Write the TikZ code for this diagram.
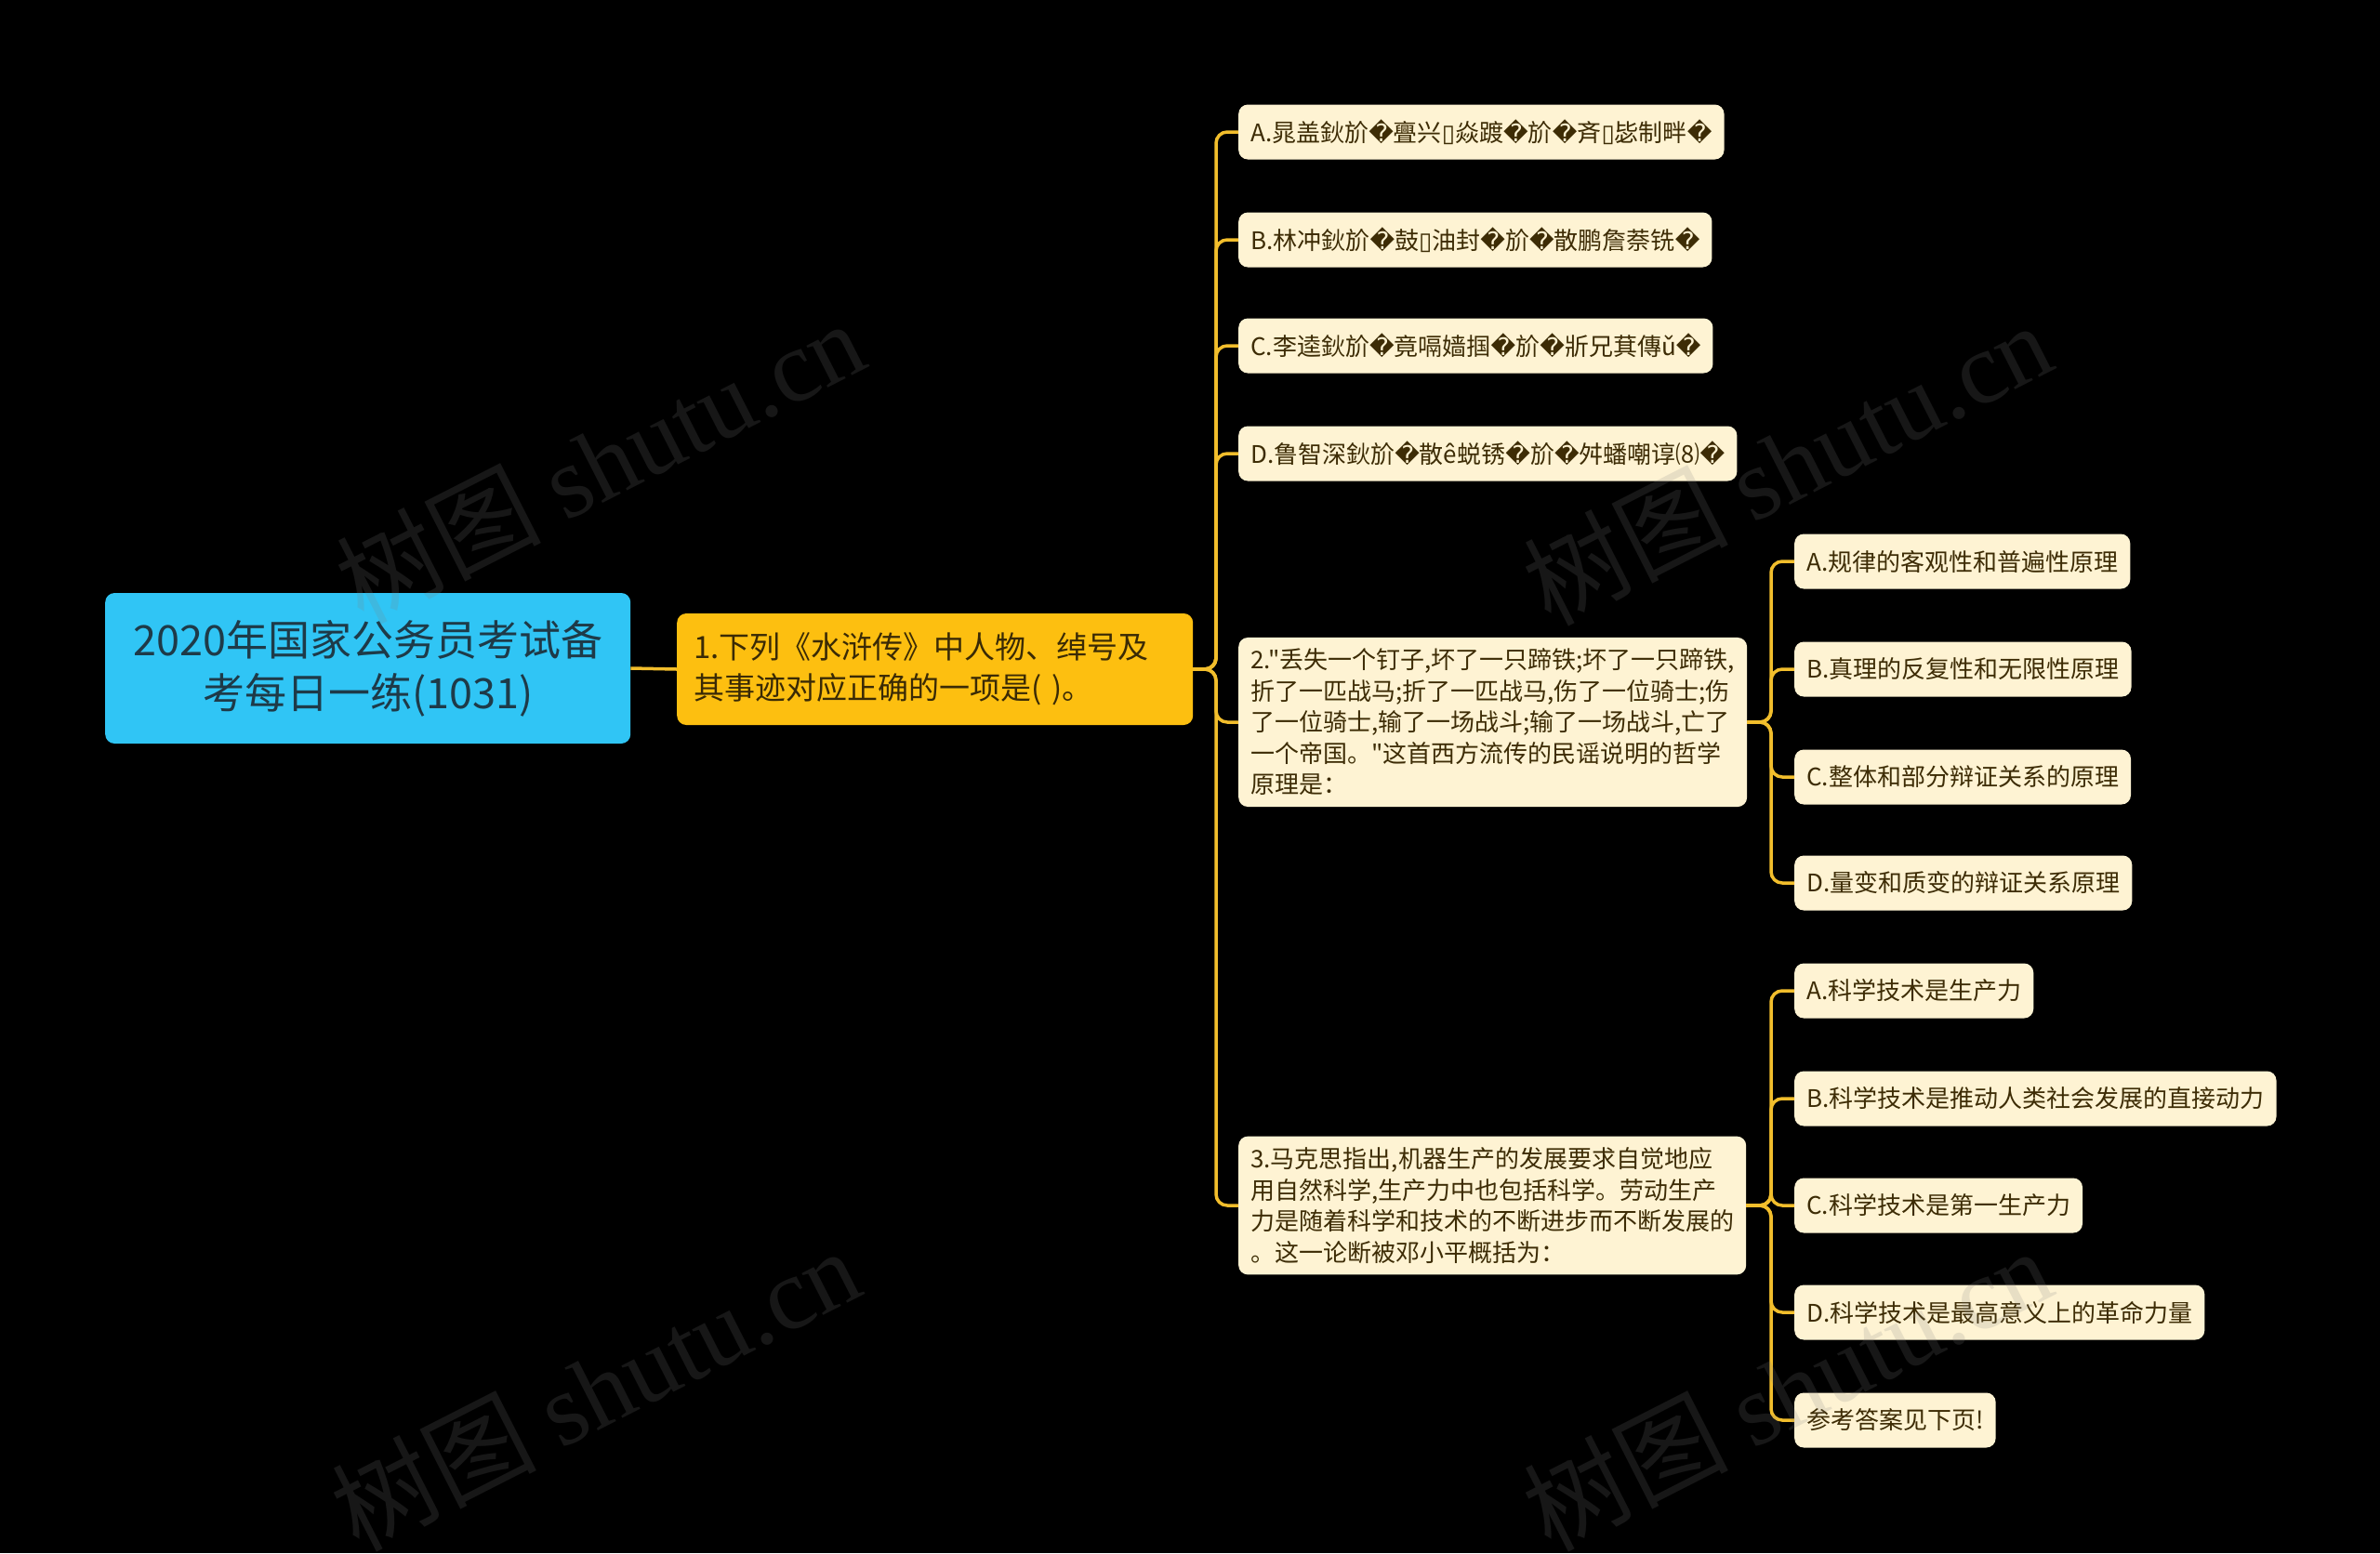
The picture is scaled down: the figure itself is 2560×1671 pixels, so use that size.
\documentclass[tikz,border=0pt]{standalone}
\usepackage{fontspec}
\setmainfont{Noto Sans CJK SC}[Ligatures=TeXOff]
\newfontfamily\dvfont{DejaVu Sans}
\newfontfamily\wmlatin{Liberation Serif}
\newcommand\RPc{{\dvfont\char"FFFD}}
\newcommand\BXc{{\dvfont\char"25AF}}
\definecolor{bgc}{HTML}{000000}
\definecolor{rootc}{HTML}{30C5F5}
\definecolor{roottxt}{HTML}{1E3A48}
\definecolor{lonec}{HTML}{FDBF10}
\definecolor{lonetxt}{HTML}{3A2A05}
\definecolor{leafc}{HTML}{FEF3D3}
\definecolor{leaftxt}{HTML}{3D2C05}
\definecolor{connc}{HTML}{F2BE2C}
\tikzset{
  rootbox/.style={fill=rootc, text=roottxt, rounded corners=10pt, anchor=west,
    minimum width=565pt, minimum height=162pt, inner sep=0pt, align=center,
    font=\fontsize{45}{57}\selectfont},
  lonebox/.style={fill=lonec, text=lonetxt, rounded corners=10pt, anchor=west,
    minimum height=120pt, inner xsep=18pt, inner ysep=0pt, align=left,
    text width=519pt, font=\fontsize{33}{44}\selectfont},
  leafbox/.style={fill=leafc, text=leaftxt, rounded corners=10pt, anchor=west,
    minimum height=59pt, inner xsep=13pt, inner ysep=0pt, align=left,
    font=\fontsize{26}{33.5}\selectfont},
  qbox/.style={leafbox, inner ysep=12pt},
  conn/.style={draw=connc, line width=3.5pt, rounded corners=12pt},
  wm/.style={text=gray, opacity=0.18, rotate=27, font=\fontsize{110}{120}\selectfont},
}
\begin{document}
\begin{tikzpicture}[x=1pt,y=-1pt]
\fill[bgc] (0,0) rectangle (2560,1671);
\useasboundingbox (0,0) rectangle (2560,1671);
\coordinate (s1) at (1308,0);
\coordinate (s2) at (1905,0);

\node[rootbox] (root) at (113,719) {2020年国家公务员考试备\\考每日一练(1031)};
\node[lonebox] (l1) at (728,720) {1.下列《水浒传》中人物、绰号及\\其事迹对应正确的一项是( )。};

\node[leafbox] (a1) at (1332,142) {A.晁盖鈥斺\RPc{}亹兴\BXc{}焱踱\RPc{}斺\RPc{}斉\BXc{}毖制畔\RPc{}};
\node[leafbox] (b1) at (1332,258) {B.林冲鈥斺\RPc{}鼓\BXc{}油封\RPc{}斺\RPc{}散鹏詹萘铣\RPc{}};
\node[leafbox] (c1) at (1332,372) {C.李逵鈥斺\RPc{}竟嗝嫱掴\RPc{}斺\RPc{}斨兄萁傳ǔ\RPc{}};
\node[leafbox] (d1) at (1332,488) {D.鲁智深鈥斺\RPc{}散ê蜕锈\RPc{}斺\RPc{}舛蟠嘲谆⑻\RPc{}};
\node[qbox] (q2) at (1332,777) {2."丢失一个钉子,坏了一只蹄铁;坏了一只蹄铁,\\折了一匹战马;折了一匹战马,伤了一位骑士;伤\\了一位骑士,输了一场战斗;输了一场战斗,亡了\\一个帝国。"这首西方流传的民谣说明的哲学\\原理是：};
\node[qbox] (q3) at (1332,1297) {3.马克思指出,机器生产的发展要求自觉地应\\用自然科学,生产力中也包括科学。劳动生产\\力是随着科学和技术的不断进步而不断发展的\\。这一论断被邓小平概括为：};

\node[leafbox] (q2a) at (1930,604) {A.规律的客观性和普遍性原理};
\node[leafbox] (q2b) at (1930,720) {B.真理的反复性和无限性原理};
\node[leafbox] (q2c) at (1930,836) {C.整体和部分辩证关系的原理};
\node[leafbox] (q2d) at (1930,950) {D.量变和质变的辩证关系原理};

\node[leafbox] (q3a) at (1930,1066) {A.科学技术是生产力};
\node[leafbox] (q3b) at (1930,1182) {B.科学技术是推动人类社会发展的直接动力};
\node[leafbox] (q3c) at (1930,1297) {C.科学技术是第一生产力};
\node[leafbox] (q3d) at (1930,1412) {D.科学技术是最高意义上的革命力量};
\node[leafbox] (q3e) at (1930,1528) {参考答案见下页!};

\draw[conn] (root.east) -- (l1.west);
\foreach \c in {a1,b1,c1,d1,q2,q3}
  \draw[conn] (l1.east) -- (l1.east -| s1) |- (\c.west);
\foreach \c in {q2a,q2b,q2c,q2d}
  \draw[conn] (q2.east) -- (q2.east -| s2) |- (\c.west);
\foreach \c in {q3a,q3b,q3c,q3d,q3e}
  \draw[conn] (q3.east) -- (q3.east -| s2) |- (\c.west);

\node[wm] (wm1) at (645,496) {树图 {\wmlatin shutu.cn}};
\node[wm] (wm2) at (1922,498) {树图 {\wmlatin shutu.cn}};
\node[wm] (wm3) at (640,1494) {树图 {\wmlatin shutu.cn}};
\node[wm] (wm4) at (1922,1494) {树图 {\wmlatin shutu.cn}};
\end{tikzpicture}
\end{document}
